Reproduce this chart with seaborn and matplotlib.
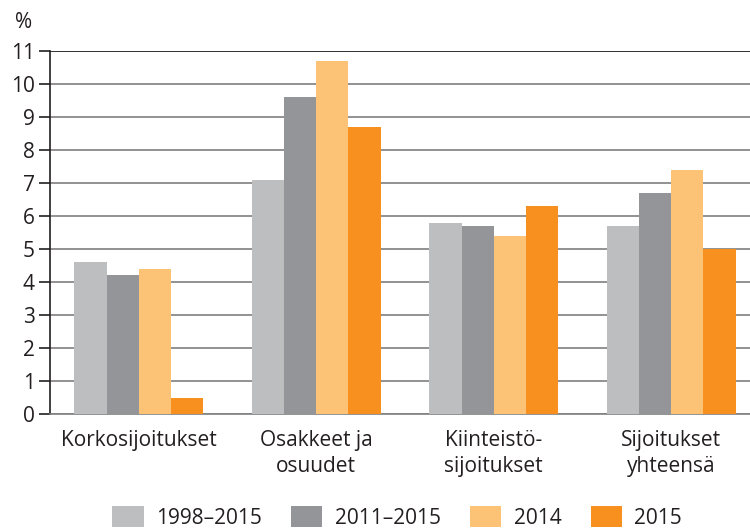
import pandas as pd
import matplotlib.pyplot as plt
import seaborn as sns

categories = ["Korkosijoitukset", "Osakkeet ja\nosuudet", "Kiinteistö-\nsijoitukset", "Sijoitukset\nyhteensä"]
periods = ["1998–2015", "2011–2015", "2014", "2015"]
v_1998_2015 = [4.6, 7.1, 5.8, 5.7]
v_2011_2015 = [4.2, 9.6, 5.7, 6.7]
v_2014 = [4.4, 10.7, 5.4, 7.4]
v_2015 = [0.5, 8.7, 6.3, 5.0]
colors = ["#bcbec0", "#939598", "#fcc276", "#f7901e"]

rows = []
for p, vals in zip(periods, [v_1998_2015, v_2011_2015, v_2014, v_2015]):
    for c, v in zip(categories, vals):
        rows.append({"cat": c, "period": p, "value": v})
df = pd.DataFrame(rows)

sns.set_style("white")
plt.rcParams['font.family'] = ['Open Sans', 'DejaVu Sans']
fs = 15

fig = plt.figure(figsize=(7.5, 5.32), dpi=100)
ax = fig.add_axes([50/750, 1-414/532, 710/750, 363/532])
sns.barplot(data=df, x="cat", y="value", hue="period", palette=colors,
            width=0.725, saturation=1, ax=ax, zorder=3, edgecolor="none")

ax.set_ylim(0, 11)
ax.set_xlim(-0.5, 3.5)
ax.set_yticks(range(0, 12))
ax.yaxis.grid(True, color="#7f7f7f", linewidth=1.2, zorder=0)
ax.set_axisbelow(True)
for s in ["top", "right"]:
    ax.spines[s].set_visible(False)
ax.spines["left"].set_color("#231f20")
ax.spines["left"].set_linewidth(1.2)
ax.spines["bottom"].set_color("#808080")
ax.spines["bottom"].set_linewidth(1.2)
ax.axhline(11, color="#333333", linewidth=1.4, zorder=1)
ax.tick_params(axis="y", left=True, length=8, width=1.2, color="#231f20",
               labelsize=fs, labelcolor="#231f20", pad=3)
ax.tick_params(axis="x", bottom=False, labelsize=fs, labelcolor="#231f20", pad=8)
for lbl in ax.get_xticklabels():
    lbl.set_linespacing(1.3)
ax.set_xlabel("")
ax.set_ylabel("")
fig.text(24/750, 1-22/532, "%", fontsize=fs, color="#231f20", ha="center", va="center")

handles, labels = ax.get_legend_handles_labels()
ax.legend(handles, labels, loc="center", bbox_to_anchor=(0.489, -0.285), ncol=4,
          frameon=False, fontsize=fs, handlelength=1.5, handleheight=1.2,
          columnspacing=1.4, handletextpad=0.6, labelcolor="#231f20")

fig.savefig("out.png", dpi=100)
